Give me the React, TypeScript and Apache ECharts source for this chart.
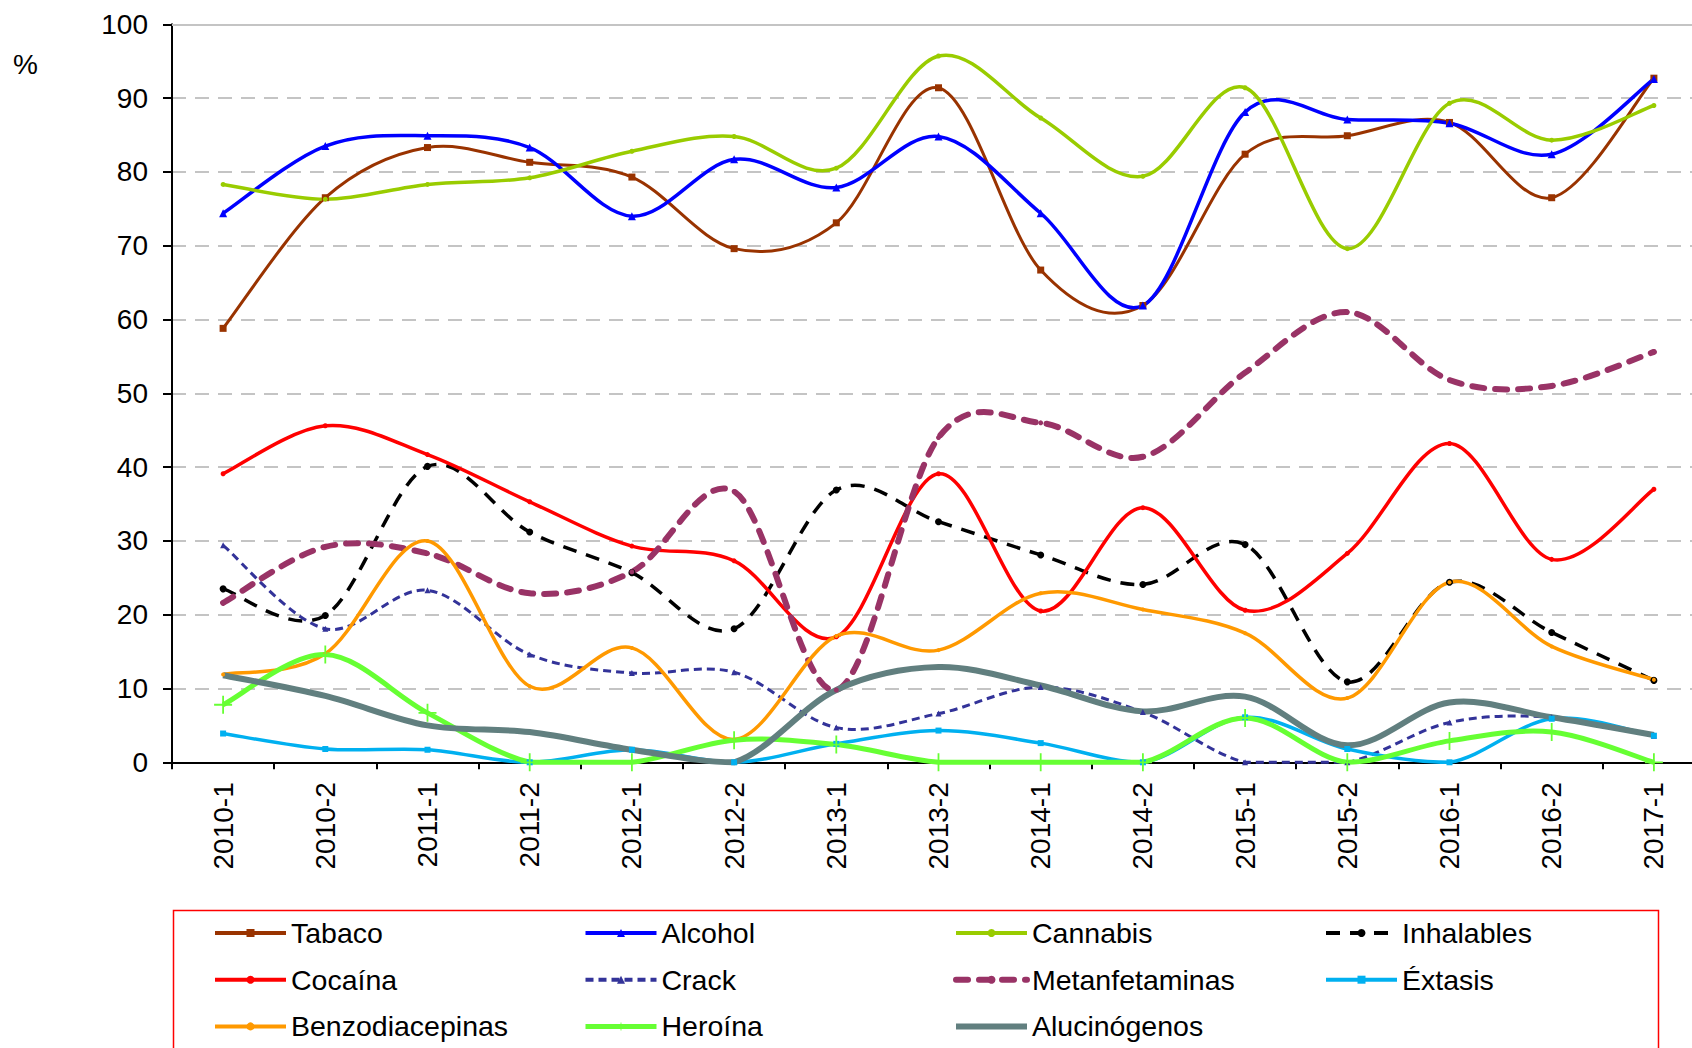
import React, { useEffect, useRef } from "react";
import * as echarts from "echarts";

const categories = [
  "2010-1", "2010-2", "2011-1", "2011-2", "2012-1", "2012-2", "2013-1", "2013-2",
  "2014-1", "2014-2", "2015-1", "2015-2", "2016-1", "2016-2", "2017-1",
];

const tabaco = [58.8, 76.5, 83.3, 81.3, 79.3, 69.6, 73.1, 91.4, 66.7, 61.9, 82.4, 84.9, 86.7, 76.5, 92.7];
const alcohol = [74.4, 83.5, 84.9, 83.3, 74.0, 81.7, 77.9, 84.8, 74.4, 61.9, 88.1, 87.1, 86.6, 82.4, 92.6];
const cannabis = [78.3, 76.3, 78.3, 79.2, 82.8, 84.8, 80.5, 95.7, 87.3, 79.4, 91.4, 69.6, 89.3, 84.3, 89.0];
const inhalables = [23.5, 19.9, 40.1, 31.2, 25.7, 18.1, 36.9, 32.6, 28.1, 24.1, 29.5, 10.9, 24.4, 17.6, 11.1];
const cocaina = [39.1, 45.6, 41.7, 35.3, 29.3, 27.3, 17.0, 39.1, 20.5, 34.5, 20.6, 28.3, 43.2, 27.5, 37.0];
const crack = [29.4, 18.1, 23.3, 14.6, 12.1, 12.2, 4.7, 6.6, 10.2, 6.8, 0, 0, 5.4, 6.1, 3.6];
const metanfetaminas = [21.6, 29.2, 28.3, 22.9, 25.8, 36.7, 9.8, 44.0, 46.0, 41.4, 52.8, 61.0, 51.8, 51.0, 55.6];
const extasis = [3.9, 1.8, 1.7, 0, 1.7, 0, 2.5, 4.3, 2.6, 0, 6.1, 1.8, 0, 5.9, 3.6];
const benzodiacepinas = [11.9, 14.7, 30.0, 10.3, 15.5, 3.1, 17.1, 15.2, 22.9, 20.7, 17.5, 8.7, 24.4, 15.7, 11.2];
const heroina = [7.8, 14.6, 6.7, 0, 0, 3.0, 2.4, 0, 0, 0, 6.0, 0, 2.9, 4.1, 0];
const alucinogenos = [11.8, 9.0, 5.0, 4.1, 1.7, 0, 9.8, 12.9, 10.4, 6.9, 8.9, 2.3, 8.1, 6.1, 3.7];

const yTicks = { min: 0, max: 100, interval: 10 };

const legendColumns = [
  ["Tabaco", "Cocaína", "Benzodiacepinas"],
  ["Alcohol", "Crack", "Heroína"],
  ["Cannabis", "Metanfetaminas", "Alucinógenos"],
  ["Inhalables", "Éxtasis"],
];

const FONT = "'Liberation Sans', Arial, sans-serif";
const PLUS = "path://M-0.1,-1H0.1V-0.1H1V0.1H0.1V1H-0.1V0.1H-1V-0.1H-0.1Z";

type Spec = {
  name: string;
  data: number[];
  color: string;
  width: number;
  symbol: string;
  symbolSize: any;
  dash?: number[];
  cap?: string;
};

const specs: Spec[] = [
  { name: "Tabaco", data: tabaco, color: "#993300", width: 3, symbol: "rect", symbolSize: 7 },
  { name: "Alcohol", data: alcohol, color: "#0000FF", width: 3.5, symbol: "triangle", symbolSize: 8 },
  { name: "Cannabis", data: cannabis, color: "#99CC00", width: 3.5, symbol: "circle", symbolSize: 5 },
  { name: "Inhalables", data: inhalables, color: "#000000", width: 3.5, symbol: "circle", symbolSize: 7, dash: [14, 10] },
  { name: "Cocaína", data: cocaina, color: "#FF0000", width: 3.5, symbol: "circle", symbolSize: 5 },
  { name: "Crack", data: crack, color: "#333399", width: 3, symbol: "triangle", symbolSize: 6, dash: [8, 5] },
  { name: "Metanfetaminas", data: metanfetaminas, color: "#993366", width: 6, symbol: "circle", symbolSize: 5, dash: [12, 11], cap: "round" },
  { name: "Éxtasis", data: extasis, color: "#00B0F0", width: 3.5, symbol: "rect", symbolSize: 6 },
  { name: "Benzodiacepinas", data: benzodiacepinas, color: "#FF9900", width: 3.5, symbol: "circle", symbolSize: 4 },
  { name: "Heroína", data: heroina, color: "#66FF33", width: 5, symbol: PLUS, symbolSize: [18, 18] },
  { name: "Alucinógenos", data: alucinogenos, color: "#617F7F", width: 6, symbol: "none", symbolSize: 0 },
];

function smoothPath(pts: number[][], baseY: number): string {
  let d = `M${pts[0][0]},${pts[0][1]}`;
  for (let i = 0; i < pts.length - 1; i++) {
    const p0 = pts[i - 1] || pts[i];
    const p1 = pts[i];
    const p2 = pts[i + 1];
    const p3 = pts[i + 2] || pts[i + 1];
    const c1x = p1[0] + (p2[0] - p0[0]) / 6;
    const c1y = Math.min(baseY, p1[1] + (p2[1] - p0[1]) / 6);
    const c2x = p2[0] - (p3[0] - p1[0]) / 6;
    const c2y = Math.min(baseY, p2[1] - (p3[1] - p1[1]) / 6);
    d += ` C${c1x},${c1y} ${c2x},${c2y} ${p2[0]},${p2[1]}`;
  }
  return d;
}

export default function App() {
  const ref = useRef<HTMLDivElement>(null);
  useEffect(() => {
    if (!ref.current) return;
    const chart = echarts.init(ref.current, null, { renderer: "svg" });

    const curveSeries = specs.map((s) => ({
      type: "custom",
      name: "curve-" + s.name,
      coordinateSystem: "cartesian2d",
      clip: false,
      silent: true,
      data: s.data.map((v, i) => [i, v]),
      encode: { x: 0, y: 1 },
      renderItem: (params: any, api: any) => {
        if (params.dataIndex !== 0) return null;
        const pts = s.data.map((v, i) => api.coord([i, v]));
        const baseY = api.coord([0, yTicks.min])[1];
        return {
          type: "path",
          shape: { pathData: smoothPath(pts, baseY) },
          style: {
            fill: "none",
            stroke: s.color,
            lineWidth: s.width,
            lineDash: s.dash || null,
            lineCap: s.cap || "butt",
          },
        };
      },
    }));

    const markerSeries = specs.map((s) => ({
      name: s.name,
      type: "line",
      data: s.data,
      symbol: s.symbol,
      symbolSize: s.symbolSize,
      showSymbol: s.symbol !== "none",
      itemStyle: { color: s.color },
      lineStyle: { color: s.color, width: s.width, type: s.dash || "solid", cap: s.cap || "butt", opacity: 0 },
      emphasis: { disabled: true },
    }));

    const legendLefts = [213, 583, 953, 1324];
    const legends = legendColumns.map((col, i) => ({
      orient: "vertical",
      left: legendLefts[i],
      top: 917,
      data: col.map((n) => {
        const s = specs.find((x) => x.name === n)!;
        return {
          name: n,
          lineStyle: { opacity: 1, width: Math.max(s.width, 4) },
          itemStyle: s.symbol === "none" ? { opacity: 0 } : {},
        };
      }),
      itemWidth: 71,
      itemHeight: 10,
      itemGap: 14.7,
      selectedMode: false,
      textStyle: { fontSize: 28.5, fontFamily: FONT, color: "#000", lineHeight: 32 },
      padding: 0,
    }));

    chart.setOption({
      animation: false,
      backgroundColor: "#fff",
      textStyle: { fontFamily: FONT },
      grid: { left: 172, top: 24.3, width: 1533, height: 738, containLabel: false },
      xAxis: [
        {
          type: "category",
          data: categories,
          boundaryGap: true,
          axisLine: { lineStyle: { color: "#000", width: 2 } },
          axisTick: { show: true, interval: 0, length: 7, lineStyle: { color: "#000", width: 2 } },
          axisLabel: {
            interval: 0,
            rotate: 90,
            fontSize: 28,
            color: "#000",
            fontFamily: FONT,
            margin: 20,
          },
          splitLine: { show: false },
        },
        {
          type: "category",
          data: categories,
          position: "top",
          axisLine: { lineStyle: { color: "#C4C4C4", width: 2 } },
          axisTick: { show: false },
          axisLabel: { show: false },
        },
      ],
      yAxis: {
        type: "value",
        min: yTicks.min,
        max: yTicks.max,
        interval: yTicks.interval,
        axisLine: { show: true, lineStyle: { color: "#000", width: 2 } },
        axisTick: { show: true, inside: false, length: 9, lineStyle: { color: "#000", width: 2 } },
        axisLabel: { fontSize: 28, color: "#000", fontFamily: FONT, margin: 24 },
        splitLine: { show: true, lineStyle: { color: "#C4C4C4", width: 2, type: [14, 9] } },
      },
      legend: legends,
      graphic: [
        {
          type: "text",
          left: 13,
          top: 50,
          style: { text: "%", fontSize: 28, fontFamily: FONT, fill: "#000" },
        },
        {
          type: "rect",
          shape: { x: 173.5, y: 910.5, width: 1485, height: 200 },
          style: { fill: "none", stroke: "#FF0000", lineWidth: 1.5 },
          z: -1,
        },
      ],
      series: [...curveSeries, ...markerSeries],
    });
    return () => chart.dispose();
  }, []);

  return (
    <div style={{ position: "absolute", left: 0, top: 0, width: 1692, height: 1048, overflow: "hidden" }}>
      <div ref={ref} style={{ width: 1720, height: 1048 }} />
    </div>
  );
}
